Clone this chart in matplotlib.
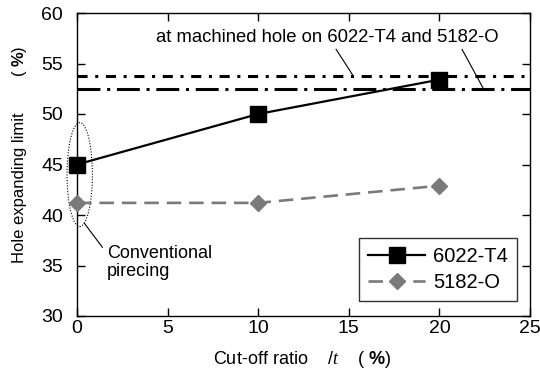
import matplotlib
matplotlib.use("Agg")
import matplotlib.pyplot as plt
from matplotlib.patches import Ellipse

plt.rcParams['font.family'] = ['Liberation Sans', 'DejaVu Sans']
plt.rcParams['mathtext.fontset'] = 'custom'
plt.rcParams['mathtext.rm'] = 'Liberation Sans'
plt.rcParams['mathtext.bf'] = 'Liberation Sans:bold'
plt.rcParams['mathtext.it'] = 'Liberation Serif:italic'

# cut-off ratio (%) and hole expanding limit (%)
ratio = [0, 10, 20]
t4_6022 = [45.0, 50.0, 53.4]
o_5182 = [41.2, 41.2, 42.9]
# machined hole reference levels
machined_6022 = 53.8
machined_5182 = 52.5

fig = plt.figure(figsize=(5.4, 3.73), dpi=100)
ax = fig.add_axes([77 / 540, 1 - 316 / 373, 453 / 540, 303 / 373])

ax.axhline(machined_6022, color='black', lw=2.2, dashes=(3.3, 2.5, 1, 2.5))
ax.axhline(machined_5182, color='black', lw=2.2, dashes=(7.5, 2.2, 1, 2.2))

ax.plot(ratio, t4_6022, color='black', lw=1.6, marker='s', ms=11,
        label='6022-T4', clip_on=False, zorder=5)
ax.plot(ratio, o_5182, color='#7a7a7a', lw=1.9, dashes=(5.5, 3), marker='D',
        ms=8.5, label='5182-O', clip_on=False, zorder=5)

ax.set_xlim(0, 25)
ax.set_ylim(30, 60)
ax.set_xticks(range(0, 26, 5))
ax.set_yticks(range(30, 61, 5))
ax.tick_params(direction='in', length=6, width=1, top=True, right=True,
               labelsize=14)
ax.tick_params(axis='x', pad=3)
ax.tick_params(axis='y', pad=10)
for s in ax.spines.values():
    s.set_linewidth(1)

# notes
ax.text(13.8, 57.6, 'at machined hole on 6022-T4 and 5182-O',
        ha='center', va='center', fontsize=13.3)
ax.plot([14.3, 15.2], [56.4, 53.9], color='black', lw=0.8)
ax.plot([21.25, 22.4], [56.4, 52.6], color='black', lw=0.8)

ell = Ellipse((0.15, 44.0), 1.4, 10.3, fill=False, ls=(0, (1, 1.5)),
              lw=0.8, color='black', clip_on=False)
ax.add_patch(ell)
ax.plot([0.4, 1.4], [39.2, 36.8], color='black', lw=0.8, clip_on=False)
ax.text(1.65, 35.3, 'Conventional\npirecing', ha='left', va='center',
        fontsize=13, linespacing=1.05)

leg = ax.legend(loc='lower right', fontsize=14.5, frameon=True, fancybox=False,
                edgecolor='black', handlelength=2.8, borderpad=0.45,
                labelspacing=0.35, handletextpad=0.4, borderaxespad=0,
                bbox_to_anchor=(0.971, 0.05))
leg.get_frame().set_linewidth(1)

fig.text(0.56, 1 - 360 / 373, r'Cut-off ratio    $\mathit{/t}$    ( $\mathbf{\%}$)',
         ha='center', va='center', fontsize=13)
fig.text(0.037, 1 - 188 / 373, 'Hole expanding limit', rotation=90,
         ha='center', va='center', fontsize=12)
fig.text(0.037, 1 - 61 / 373, r'( $\mathbf{\%}$)', rotation=90,
         ha='center', va='center', fontsize=12)

fig.savefig('out.png', dpi=100)
